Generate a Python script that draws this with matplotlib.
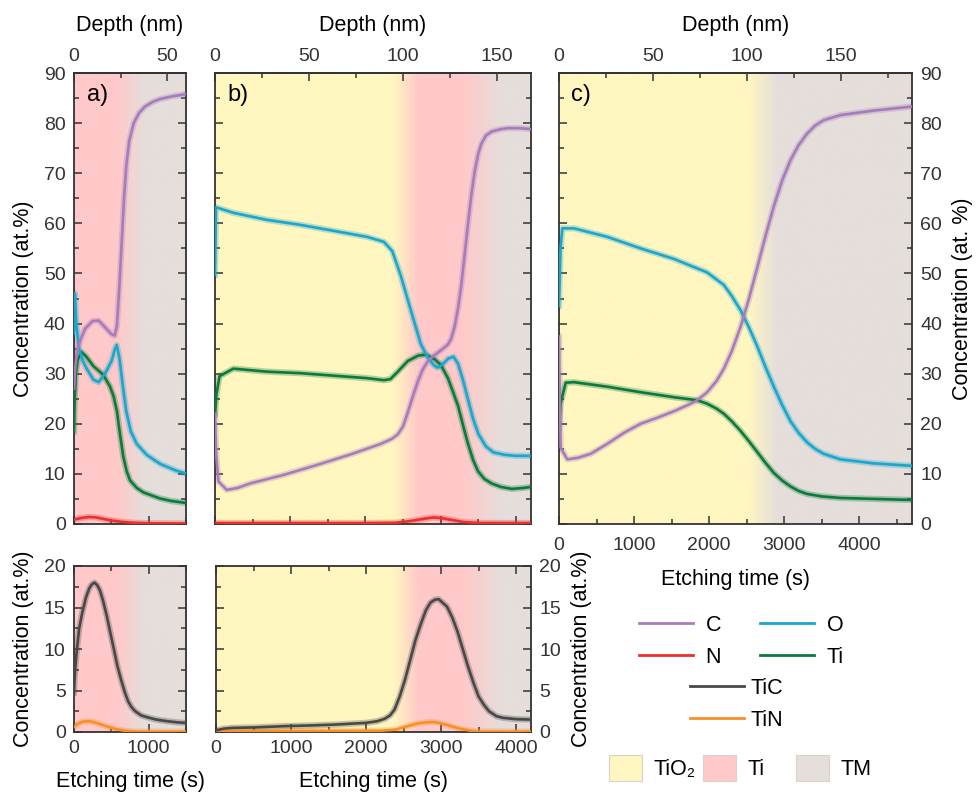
import numpy as np
import matplotlib
matplotlib.use("Agg")
import matplotlib.pyplot as plt
from matplotlib.lines import Line2D
from matplotlib.patches import Patch
from matplotlib.ticker import MultipleLocator
from matplotlib.colors import to_rgb

plt.rcParams['font.family'] = ['Liberation Sans', 'DejaVu Sans']
plt.rcParams['font.size'] = 14
plt.rcParams['axes.labelsize'] = 15.5

RATE = 25.0  # etching rate, s per nm

# ---- panel a (top) ----
a_t_C = [0, 15, 40, 80, 150, 250, 330, 420, 500, 545, 575, 610, 640, 670, 700, 740, 800, 870, 950, 1050, 1150, 1300, 1420, 1500]
a_C = [27, 31, 34.5, 36.5, 39, 40.5, 40.6, 39.2, 37.9, 37.6, 39.5, 48, 56.5, 65, 71.5, 76.5, 80, 82, 83.3, 84.2, 84.8, 85.3, 85.6, 85.8]
a_t_O = [0, 12, 30, 67, 120, 170, 260, 330, 415, 505, 545, 572, 610, 650, 700, 760, 840, 974, 1153, 1377, 1500]
a_O = [38, 46, 40, 35, 32.5, 31, 28.8, 28.3, 30, 32.6, 34.8, 35.7, 33, 28, 22.5, 18.5, 16, 13.8, 12, 10.6, 10.1]
a_t_Ti = [0, 10, 25, 50, 100, 160, 260, 390, 480, 530, 575, 620, 660, 706, 751, 840, 930, 1150, 1300, 1500]
a_Ti = [18.5, 25, 30, 32.8, 34.3, 33.5, 31.5, 29.8, 27.5, 25.5, 22.5, 17.5, 13.5, 10.5, 8.7, 7.2, 6.3, 5.1, 4.6, 4.2]
a_t_N = [0, 100, 200, 300, 400, 500, 600, 700, 800, 1000, 1500]
a_N = [0.9, 1.2, 1.4, 1.3, 1.0, 0.7, 0.5, 0.35, 0.25, 0.15, 0.1]

# ---- panel b (top) ----
b_t_C = [0, 15, 45, 156, 300, 468, 913, 1360, 1804, 2205, 2350, 2430, 2500, 2561, 2630, 2695, 2760, 2829, 2900, 2962,
         3030, 3096, 3140, 3185, 3230, 3274, 3320, 3363, 3410, 3452, 3500, 3541, 3600, 3675, 3800, 3900, 4050, 4200]
b_C = [22, 14, 8.5, 6.8, 7.2, 8.1, 9.8, 11.8, 13.9, 16, 17, 17.9, 19.5, 22.2, 25.5, 28.4, 30.8, 32.5, 33.5, 34.2,
       35, 35.8, 37, 39.4, 43, 47.7, 54, 60, 66, 70.4, 74, 75.9, 77.5, 78.3, 78.8, 79, 79, 78.8]
b_t_O = [0, 13, 244, 689, 1133, 1578, 2022, 2244, 2355, 2466, 2600, 2733, 2800, 2900, 2955, 3020, 3100, 3170, 3230,
         3300, 3360, 3430, 3500, 3600, 3700, 3850, 4000, 4200]
b_O = [49.7, 63.2, 62.1, 60.7, 59.7, 58.5, 57.3, 56.3, 54.5, 49.7, 42.8, 36, 34, 31.8, 31.2, 31.8, 33, 33.4, 32,
       28.5, 25, 21, 18, 15.5, 14.3, 13.8, 13.6, 13.6]
b_t_Ti = [0, 20, 60, 244, 689, 1133, 1578, 2022, 2244, 2330, 2430, 2560, 2700, 2800, 2918, 3000, 3096, 3160, 3230,
          3300, 3363, 3430, 3497, 3580, 3675, 3800, 3943, 4100, 4200]
b_Ti = [21.8, 26, 29.5, 31.0, 30.4, 30.1, 29.6, 29.1, 28.7, 28.9, 30.4, 32.5, 33.6, 33.8, 32.9, 31.8, 29.1, 26.5, 23.6,
        19.5, 16, 12.8, 10.5, 9, 8.1, 7.4, 7.0, 7.2, 7.4]
b_t_N = [0, 1000, 2000, 2400, 2600, 2800, 2900, 3000, 3150, 3300, 3500, 4200]
b_N = [0.2, 0.2, 0.2, 0.25, 0.6, 1.1, 1.3, 1.2, 0.8, 0.4, 0.2, 0.2]

# ---- panel c ----
c_t_C = [0, 10, 22, 111, 250, 421, 643, 865, 1086, 1308, 1530, 1752, 1840, 1973, 2100, 2195, 2300, 2416, 2530, 2638,
         2750, 2860, 2970, 3082, 3190, 3303, 3410, 3525, 3747, 4190, 4700]
c_C = [37.4, 25, 15.2, 12.9, 13.2, 14, 16, 18.2, 20, 21.2, 22.5, 24, 24.7, 26.3, 28.6, 31, 34.5, 39.3, 45, 51.1,
       57.5, 63.4, 68.5, 72.6, 75.6, 77.9, 79.5, 80.6, 81.6, 82.5, 83.3]
c_t_O = [0, 20, 44, 200, 643, 1086, 1530, 1973, 2195, 2300, 2416, 2530, 2638, 2750, 2860, 2970, 3082, 3190, 3303,
         3410, 3525, 3747, 4190, 4700]
c_O = [43.5, 55, 59, 59, 57.3, 55, 52.9, 50.2, 47.7, 45.5, 42.7, 39.2, 35.5, 31.3, 27.4, 23.8, 20.5, 18.2, 16.3,
       15, 14, 12.9, 12.1, 11.6]
c_t_Ti = [0, 20, 89, 200, 643, 1086, 1530, 1840, 1973, 2100, 2195, 2300, 2416, 2530, 2638, 2750, 2860, 2970, 3082,
          3190, 3303, 3500, 3747, 4200, 4700]
c_Ti = [19, 24, 28.2, 28.3, 27.4, 26.3, 25.3, 24.7, 24, 23, 22, 20.5, 18.6, 16.5, 14.4, 12.2, 10.2, 8.7, 7.5,
        6.6, 6, 5.5, 5.2, 5, 4.8]

# ---- bottom panels (TiC, TiN) ----
ab_t_TiC = [0, 15, 38, 70, 109, 160, 204, 240, 275, 310, 346, 390, 441, 490, 536, 580, 630, 680, 725, 770, 820, 900,
            1010, 1100, 1247, 1400, 1500]
ab_TiC = [4.7, 7.5, 9.9, 12.5, 14.3, 16.2, 17.3, 17.8, 18, 17.7, 17.1, 15.8, 13.9, 11.8, 9.9, 8, 6.3, 4.8, 3.7, 3,
          2.5, 2.0, 1.7, 1.5, 1.3, 1.15, 1.1]
ab_t_TiN = [0, 50, 120, 200, 280, 380, 480, 580, 700, 850, 1500]
ab_TiN = [0.6, 1.0, 1.25, 1.3, 1.15, 0.85, 0.55, 0.3, 0.12, 0.05, 0.05]
bb_t_TiC = [0, 100, 220, 500, 900, 1300, 1600, 2000, 2150, 2250, 2320, 2380, 2450, 2520, 2590, 2660, 2730, 2800, 2860,
            2920, 2970, 3020, 3080, 3150, 3220, 3290, 3360, 3430, 3500, 3570, 3640, 3740, 3830, 4000, 4200]
bb_TiC = [0.2, 0.4, 0.5, 0.55, 0.7, 0.8, 0.9, 1.1, 1.3, 1.6, 2.0, 2.7, 4.3, 6.3, 8.7, 11.1, 13, 14.7, 15.6,
          15.95, 16, 15.6, 15.1, 13.8, 12.1, 10, 7.9, 6, 4.3, 3.3, 2.5, 1.9, 1.7, 1.55, 1.5]
bb_t_TiN = [0, 2200, 2400, 2550, 2700, 2850, 2950, 3100, 3250, 3400, 3500, 4200]
bb_TiN = [0.1, 0.15, 0.3, 0.7, 1.05, 1.2, 1.15, 0.8, 0.4, 0.15, 0.05, 0.05]

# layer regions (etching time, layer)
a_layers = [(0, 'Ti'), (580, 'Ti'), (930, 'TM'), (1500, 'TM')]
b_layers = [(0, 'TiO2'), (2370, 'TiO2'), (2700, 'Ti'), (3300, 'Ti'), (3820, 'TM'), (4200, 'TM')]
c_layers = [(0, 'TiO2'), (2530, 'TiO2'), (2900, 'TM'), (4700, 'TM')]

col = {'C': '#a77cbb', 'O': '#1ba6cc', 'N': '#ec2f2f', 'Ti': '#0b7a3c', 'TiC': '#484848', 'TiN': '#f79028'}
bg = {'TiO2': '#fff6c0', 'Ti': '#ffc9c9', 'TM': '#e5dedb'}
ink = '#333333'


def background(ax, stops, tmax, ymax):
    t = np.linspace(0, tmax, 800)
    pos = [s[0] for s in stops]
    rgb = np.array([to_rgb(bg[s[1]]) for s in stops])
    img = np.stack([np.interp(t, pos, rgb[:, k]) for k in range(3)], axis=-1)[None, :, :]
    ax.imshow(img, extent=[0, tmax, 0, ymax], aspect='auto', zorder=0, interpolation='bilinear')


def curve(ax, t, y, key):
    ax.plot(t, y, color=col[key], lw=4.5, alpha=0.3, zorder=2)
    ax.plot(t, y, color=col[key], lw=1.9, zorder=3)


def style(ax, tmax, ymax, ymaj, ymin_):
    ax.set_xlim(0, tmax)
    ax.set_ylim(0, ymax)
    ax.xaxis.set_major_locator(MultipleLocator(1000))
    ax.xaxis.set_minor_locator(MultipleLocator(500))
    ax.yaxis.set_major_locator(MultipleLocator(ymaj))
    ax.yaxis.set_minor_locator(MultipleLocator(ymin_))
    ax.tick_params(which='both', direction='in', left=True, right=True, bottom=True, top=True, colors=ink)
    ax.tick_params(which='major', length=6, width=1.1, pad=6)
    ax.tick_params(which='minor', length=3.5, width=1.1)
    for sp in ax.spines.values():
        sp.set_linewidth(1.3)
        sp.set_color(ink)


def depth_axis(ax):
    ax.tick_params(which='both', top=False)
    sec = ax.secondary_xaxis('top', functions=(lambda x: x / RATE, lambda d: d * RATE))
    sec.xaxis.set_major_locator(MultipleLocator(50))
    sec.xaxis.set_minor_locator(MultipleLocator(25))
    sec.tick_params(which='both', direction='in', colors=ink)
    sec.tick_params(which='major', length=6, width=1.1, pad=6)
    sec.tick_params(which='minor', length=3.5, width=1.1)
    sec.spines['top'].set_linewidth(1.3)
    sec.spines['top'].set_color(ink)
    sec.set_xlabel('Depth (nm)', labelpad=12)


def tag(ax, s):
    ax.annotate(s, xy=(0, 1), xycoords='axes fraction', xytext=(9, -8), textcoords='offset points',
                ha='left', va='top', fontsize=17, zorder=5)


fig = plt.figure(figsize=(9.76, 7.92), dpi=100)
W, H = 976.0, 792.0


def box(x0, x1, y0, y1):
    return [x0 / W, 1 - y1 / H, (x1 - x0) / W, (y1 - y0) / H]


ax_a = fig.add_axes(box(74, 186, 73, 524))
ax_b = fig.add_axes(box(215, 531, 73, 524))
ax_c = fig.add_axes(box(559, 912, 73, 524))
ax_ab = fig.add_axes(box(74, 186, 566, 732))
ax_bb = fig.add_axes(box(216, 531, 566, 732))

# panel a
background(ax_a, a_layers, 1500, 90)
curve(ax_a, a_t_N, a_N, 'N')
curve(ax_a, a_t_Ti, a_Ti, 'Ti')
curve(ax_a, a_t_O, a_O, 'O')
curve(ax_a, a_t_C, a_C, 'C')
style(ax_a, 1500, 90, 10, 5)
depth_axis(ax_a)
ax_a.tick_params(labelbottom=False)
ax_a.set_ylabel('Concentration (at.%)', labelpad=7)
tag(ax_a, 'a)')

# panel b
background(ax_b, b_layers, 4200, 90)
curve(ax_b, b_t_N, b_N, 'N')
curve(ax_b, b_t_Ti, b_Ti, 'Ti')
curve(ax_b, b_t_O, b_O, 'O')
curve(ax_b, b_t_C, b_C, 'C')
style(ax_b, 4200, 90, 10, 5)
depth_axis(ax_b)
ax_b.tick_params(labelbottom=False, labelleft=False)
tag(ax_b, 'b)')

# panel c
background(ax_c, c_layers, 4700, 90)
curve(ax_c, c_t_Ti, c_Ti, 'Ti')
curve(ax_c, c_t_O, c_O, 'O')
curve(ax_c, c_t_C, c_C, 'C')
style(ax_c, 4700, 90, 10, 5)
depth_axis(ax_c)
ax_c.tick_params(labelleft=False, labelright=True)
ax_c.tick_params(axis='x', which='major', pad=9)
ax_c.yaxis.set_label_position('right')
ax_c.set_ylabel('Concentration (at. %)', labelpad=7)
ax_c.set_xlabel('Etching time (s)', labelpad=11)
tag(ax_c, 'c)')

# bottom a
background(ax_ab, a_layers, 1500, 20)
curve(ax_ab, ab_t_TiN, ab_TiN, 'TiN')
curve(ax_ab, ab_t_TiC, ab_TiC, 'TiC')
style(ax_ab, 1500, 20, 5, 2.5)
ax_ab.set_ylabel('Concentration (at.%)', labelpad=7)
ax_ab.set_xlabel('Etching time (s)', labelpad=10)

# bottom b
background(ax_bb, b_layers, 4200, 20)
curve(ax_bb, bb_t_TiN, bb_TiN, 'TiN')
curve(ax_bb, bb_t_TiC, bb_TiC, 'TiC')
style(ax_bb, 4200, 20, 5, 2.5)
ax_bb.tick_params(labelleft=False, labelright=True)
ax_bb.yaxis.set_label_position('right')
ax_bb.set_ylabel('Concentration (at.%)', labelpad=7)
ax_bb.set_xlabel('Etching time (s)', labelpad=10)

# legends
leg_kw = dict(loc='upper left', frameon=False, borderpad=0, borderaxespad=0, fontsize=15.5)
el = [Line2D([], [], color=col[k], lw=2) for k in ['C', 'N', 'O', 'Ti']]
fig.legend(el, ['C', 'N', 'O', 'Ti'], ncol=2, bbox_to_anchor=(639 / W, 1 - 615 / H),
           handlelength=2.5, handletextpad=0.6, columnspacing=1.8, labelspacing=0.5, **leg_kw)
cl = [Line2D([], [], color=col[k], lw=2) for k in ['TiC', 'TiN']]
fig.legend(cl, ['TiC', 'TiN'], bbox_to_anchor=(690 / W, 1 - 678 / H),
           handlelength=2.5, handletextpad=0.3, labelspacing=0.5, **leg_kw)
for key, name, x0 in [('TiO2', 'TiO₂', 609), ('Ti', 'Ti', 703), ('TM', 'TM', 796)]:
    fig.legend([Patch(facecolor=bg[key], edgecolor='#d8d2c8', lw=0.8)], [name],
               bbox_to_anchor=(x0 / W, 1 - 755 / H), handlelength=1.55, handleheight=1.5,
               handletextpad=0.5, **leg_kw)

fig.savefig('out.png', dpi=100)
